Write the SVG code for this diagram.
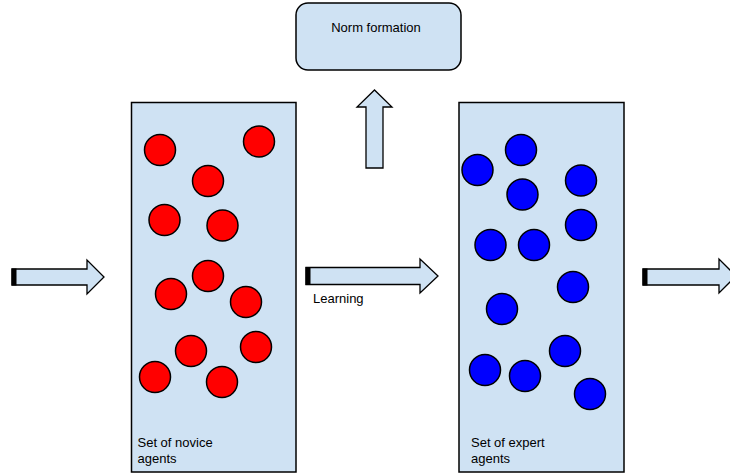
<svg xmlns="http://www.w3.org/2000/svg" width="730" height="475" viewBox="0 0 730 475">
<style>
.box{fill:#cfe2f3;stroke:#000;stroke-width:1.5}
.arrow{fill:#cfe2f3;stroke:#000;stroke-width:1.3;stroke-linejoin:miter}
.tail{fill:#000}
.red{fill:#f00;stroke:#000;stroke-width:1.5}
.blue{fill:#00f;stroke:#000;stroke-width:1.5}
text{font-family:"Liberation Sans",Arial,sans-serif;font-size:13px;fill:#000}
</style>
<rect width="730" height="475" fill="#fff"/>
<g id="norm">
<rect class="box" x="296" y="3" width="165" height="67" rx="12"/>
<text x="376" y="32" text-anchor="middle">Norm formation</text>
</g>
<g id="novice">
<rect class="box" x="131.5" y="102.5" width="164.5" height="369.5"/>
<circle class="red" cx="160" cy="150" r="15.5"/>
<circle class="red" cx="259" cy="141.5" r="15.5"/>
<circle class="red" cx="208" cy="181" r="15.5"/>
<circle class="red" cx="164.5" cy="220" r="15.5"/>
<circle class="red" cx="222.5" cy="225.5" r="15.5"/>
<circle class="red" cx="208" cy="276" r="15.5"/>
<circle class="red" cx="171" cy="294" r="15.5"/>
<circle class="red" cx="246" cy="302" r="15.5"/>
<circle class="red" cx="256" cy="347" r="15.5"/>
<circle class="red" cx="191" cy="351" r="15.5"/>
<circle class="red" cx="155" cy="377" r="15.5"/>
<circle class="red" cx="222" cy="382" r="15.5"/>
<text x="137.5" y="447">Set of novice</text>
<text x="137.5" y="463">agents</text>
</g>
<g id="expert">
<rect class="box" x="459" y="102.5" width="165" height="369.5"/>
<circle class="blue" cx="477.5" cy="170" r="15.5"/>
<circle class="blue" cx="521" cy="150" r="15.5"/>
<circle class="blue" cx="522.5" cy="194.5" r="15.5"/>
<circle class="blue" cx="581" cy="180.5" r="15.5"/>
<circle class="blue" cx="581" cy="225" r="15.5"/>
<circle class="blue" cx="490.5" cy="245" r="15.5"/>
<circle class="blue" cx="534" cy="245" r="15.5"/>
<circle class="blue" cx="573" cy="287" r="15.5"/>
<circle class="blue" cx="502" cy="309" r="15.5"/>
<circle class="blue" cx="565" cy="351" r="15.5"/>
<circle class="blue" cx="485" cy="370" r="15.5"/>
<circle class="blue" cx="525" cy="376" r="15.5"/>
<circle class="blue" cx="590" cy="394" r="15.5"/>
<text x="471" y="447">Set of expert</text>
<text x="471" y="463">agents</text>
</g>
<g id="connectors">
<g id="arrow-in">
<polygon class="arrow" points="12,269 87,269 87,260 104,277 87,294 87,285 12,285"/>
<rect class="tail" x="11.5" y="268.5" width="5" height="17"/>
</g>
<g id="arrow-learning">
<polygon class="arrow" points="306,267.5 420,267.5 420,259 438,276 420,293 420,284.5 306,284.5"/>
<rect class="tail" x="305.5" y="267" width="5" height="18"/>
<text x="313" y="303">Learning</text>
</g>
<g id="arrow-out">
<polygon class="arrow" points="643,269 719,269 719,259 736,276 719,293 719,285 643,285"/>
<rect class="tail" x="642.5" y="268.5" width="5" height="17"/>
</g>
<g id="arrow-up">
<polygon class="arrow" points="366,168 366,107 357,107 374.5,90 392,107 383,107 383,168"/>
</g>
</g>
</svg>
